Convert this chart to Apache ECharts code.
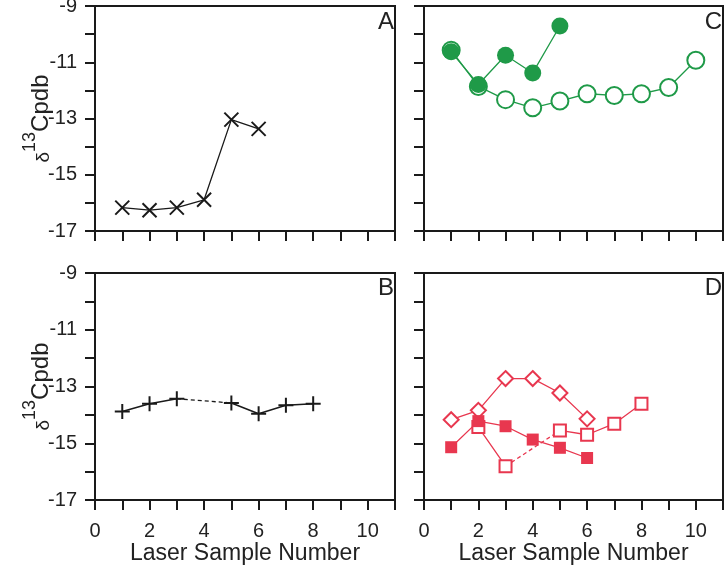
<!DOCTYPE html>
<html>
<head>
<meta charset="utf-8">
<script src="https://cdn.jsdelivr.net/npm/echarts@6/dist/echarts.min.js"></script>
<style>
html,body{margin:0;padding:0;background:#fff;}
#chart{width:726px;height:573px;}
</style>
</head>
<body>
<div id="chart"></div>
<script>
// ---- Data ----
const xTickLabels = ['0','2','4','6','8','10'];
const yTickLabels = ['-9','-11','-13','-15','-17'];

const A_x = [1, 2, 3, 4, 5, 6];
const A_y = [-16.17, -16.26, -16.17, -15.89, -13.04, -13.37];

const B_x = [1, 2, 3, 5, 6, 7, 8];
const B_y = [-13.88, -13.61, -13.43, -13.58, -13.96, -13.66, -13.61];

const C_filled_x = [1, 2, 3, 4, 5];
const C_filled_y = [-10.63, -11.79, -10.75, -11.38, -9.71];
const C_open_x = [1, 2, 3, 4, 5, 6, 7, 8, 9, 10];
const C_open_y = [-10.57, -11.86, -12.33, -12.62, -12.38, -12.12, -12.18, -12.12, -11.90, -10.93];

const D_diamond_x = [1, 2, 3, 4, 5, 6];
const D_diamond_y = [-14.17, -13.84, -12.72, -12.72, -13.23, -14.14];
const D_filledSq_x = [1, 2, 3, 4, 5, 6];
const D_filledSq_y = [-15.14, -14.22, -14.40, -14.87, -15.16, -15.52];
const D_openSq_x = [2, 3, 5, 6, 7, 8];
const D_openSq_y = [-14.43, -15.81, -14.55, -14.70, -14.31, -13.61];

const panelLetters = ['A', 'B', 'C', 'D'];

// ---- Styling ----
const FONT = '"Liberation Sans", Arial, sans-serif';
const INK = '#1a1a1a';
const GREEN = '#1f9a48';
const RED = '#e8374f';

function pairs(xs, ys) { return xs.map((x, i) => [x, ys[i]]); }
// insert breaks where consecutive x values skip
function withGaps(xs, ys) {
  const out = [];
  for (let i = 0; i < xs.length; i++) {
    if (i > 0 && xs[i] - xs[i - 1] > 1) out.push([(xs[i] + xs[i - 1]) / 2, '-']);
    out.push([xs[i], ys[i]]);
  }
  return out;
}
function gapSegments(xs, ys) {
  const segs = [];
  for (let i = 1; i < xs.length; i++) {
    if (xs[i] - xs[i - 1] > 1) segs.push([[xs[i - 1], ys[i - 1]], [xs[i], ys[i]]]);
  }
  return segs;
}

// grids: 0=A (top-left), 1=C (top-right), 2=B (bottom-left), 3=D (bottom-right)
const grids = [
  {left: 95, top: 6, width: 300, height: 225},
  {left: 424, top: 6, width: 299, height: 225},
  {left: 95, top: 273, width: 300, height: 227},
  {left: 424, top: 273, width: 299, height: 227}
].map(g => Object.assign(g, {show: true, borderColor: INK, borderWidth: 2, backgroundColor: 'transparent', containLabel: false, outerBoundsMode: 'none'}));

function xAxisFor(i) {
  const bottom = i >= 2;
  return {
    type: 'value', gridIndex: i, min: 0, max: 11, interval: 1,
    axisLine: {show: true, onZero: false, lineStyle: {color: INK, width: 2}},
    axisTick: {show: true, inside: false, length: 10, lineStyle: {color: INK, width: 2}},
    axisLabel: {
      show: bottom, margin: 21, fontSize: 20, color: '#222', fontFamily: FONT,
      formatter: v => xTickLabels.indexOf(String(v)) >= 0 ? String(v) : ''
    },
    splitLine: {show: false},
    name: bottom ? 'Laser Sample Number' : '',
    nameLocation: 'middle', nameGap: 42, nameMoveOverlap: false,
    nameTextStyle: {fontSize: 23, color: '#222', fontFamily: FONT}
  };
}
function yAxisFor(i) {
  const left = (i === 0 || i === 2);
  return {
    type: 'value', gridIndex: i, min: -17, max: -9, interval: 1,
    axisLine: {show: true, onZero: false, lineStyle: {color: INK, width: 2}},
    axisTick: {show: true, inside: false, length: 10, lineStyle: {color: INK, width: 2}},
    axisLabel: {
      show: left, margin: 18, fontSize: 20, color: '#222', fontFamily: FONT,
      formatter: v => yTickLabels.indexOf(String(v)) >= 0 ? String(v) : ''
    },
    splitLine: {show: false},
    name: left ? '{d|δ}{s|13}{c|Cpdb}' : '',
    nameLocation: 'middle', nameRotate: 90, nameGap: 42, nameMoveOverlap: false,
    nameTextStyle: {
      color: '#222', fontFamily: FONT,
      rich: {
        d: {fontSize: 19, color: '#222', fontFamily: FONT, verticalAlign: 'bottom', lineHeight: 32},
        s: {fontSize: 18, color: '#222', fontFamily: FONT, verticalAlign: 'top', lineHeight: 32},
        c: {fontSize: 24, color: '#222', fontFamily: FONT, verticalAlign: 'bottom', lineHeight: 32}
      }
    }
  };
}

const X_PATH = 'path://M0,0L10,10M10,0L0,10';
const PLUS_PATH = 'path://M5,0L5,10M0,5L10,5';

const series = [];
function lineSeries(grid, data, opts) {
  series.push(Object.assign({
    type: 'line', xAxisIndex: grid, yAxisIndex: grid, data: data,
    connectNulls: false, animation: false, silent: true
  }, opts));
}

// A
lineSeries(0, pairs(A_x, A_y), {
  symbol: X_PATH, symbolSize: 14,
  lineStyle: {color: INK, width: 1.3},
  itemStyle: {color: 'none', borderColor: INK, borderWidth: 2}
});
// B
lineSeries(2, withGaps(B_x, B_y), {
  symbol: PLUS_PATH, symbolSize: 15,
  lineStyle: {color: INK, width: 1.5},
  itemStyle: {color: 'none', borderColor: INK, borderWidth: 2}
});
gapSegments(B_x, B_y).forEach(seg => lineSeries(2, seg, {
  symbol: 'none', lineStyle: {color: INK, width: 1.3, type: [4, 3]}, z: 1
}));
// C
lineSeries(1, pairs(C_open_x, C_open_y), {
  symbol: 'circle', symbolSize: 17,
  lineStyle: {color: GREEN, width: 1.3},
  itemStyle: {color: '#fff', borderColor: GREEN, borderWidth: 2}
});
lineSeries(1, pairs(C_filled_x, C_filled_y), {
  symbol: 'circle', symbolSize: 17,
  lineStyle: {color: GREEN, width: 1.3},
  itemStyle: {color: GREEN, borderColor: GREEN, borderWidth: 0}
});
// D
lineSeries(3, pairs(D_diamond_x, D_diamond_y), {
  symbol: 'diamond', symbolSize: 15,
  lineStyle: {color: RED, width: 1.3},
  itemStyle: {color: '#fff', borderColor: RED, borderWidth: 2}
});
lineSeries(3, withGaps(D_openSq_x, D_openSq_y), {
  symbol: 'rect', symbolSize: 12,
  lineStyle: {color: RED, width: 1.3},
  itemStyle: {color: '#fff', borderColor: RED, borderWidth: 2}
});
gapSegments(D_openSq_x, D_openSq_y).forEach(seg => lineSeries(3, seg, {
  symbol: 'none', lineStyle: {color: RED, width: 1.3, type: [4, 3]}, z: 1
}));
lineSeries(3, pairs(D_filledSq_x, D_filledSq_y), {
  symbol: 'rect', symbolSize: 12,
  lineStyle: {color: RED, width: 1.3},
  itemStyle: {color: RED, borderColor: RED, borderWidth: 0}
});

const letterPos = [
  {right: 332, top: 10},
  {right: 332, top: 276},
  {right: 4, top: 10},
  {right: 4, top: 276}
];
const graphic = panelLetters.map((t, i) => Object.assign({
  type: 'text', z: 100,
  style: {text: t, font: '24px ' + FONT, fill: '#222'}
}, letterPos[i]));

const chart = echarts.init(document.getElementById('chart'), null, {renderer: 'canvas'});
chart.setOption({
  animation: false,
  backgroundColor: '#fff',
  grid: grids,
  xAxis: [0, 1, 2, 3].map(xAxisFor),
  yAxis: [0, 1, 2, 3].map(yAxisFor),
  series: series,
  graphic: graphic
});
</script>
</body>
</html>
